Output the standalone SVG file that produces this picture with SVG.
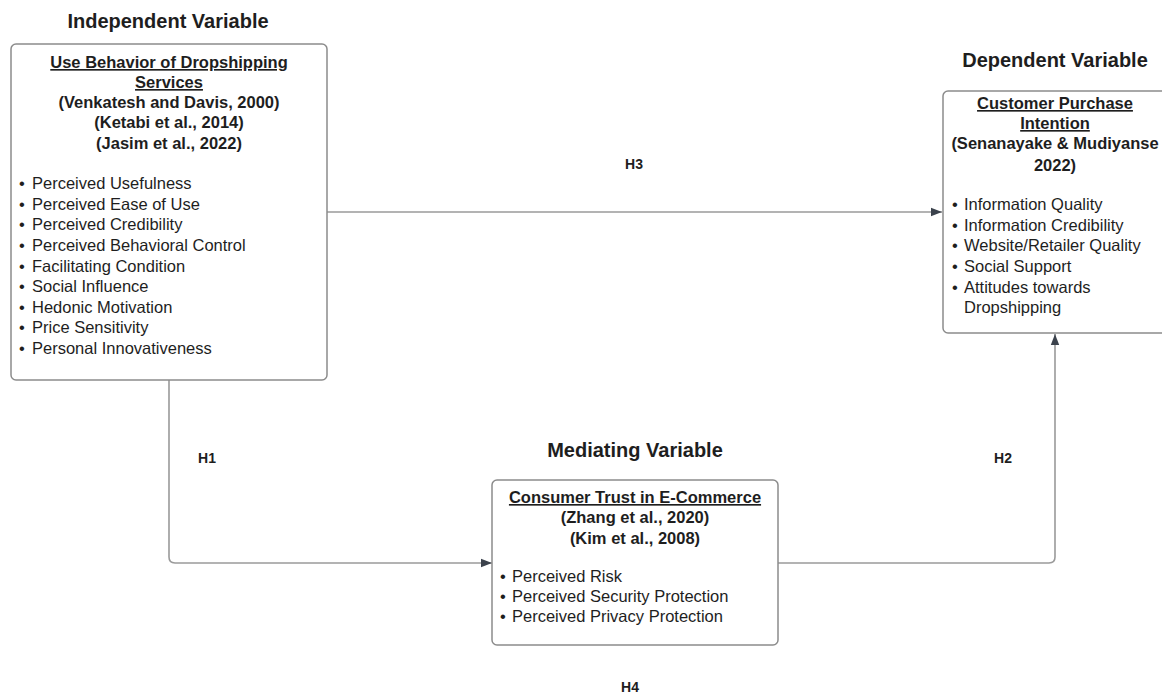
<svg xmlns="http://www.w3.org/2000/svg" width="1162" height="695" viewBox="0 0 1162 695">
<style>
text{font-family:"Liberation Sans",Arial,sans-serif;fill:#1e1e1e}
.hdr{font-size:20px;font-weight:bold;text-anchor:middle}
.hl{font-size:14px;font-weight:bold;text-anchor:middle}
.ttl{font-size:16.5px;font-weight:bold;text-anchor:middle}
.ul{text-decoration:underline}
.it{font-size:16.5px}
.box{fill:#fff;stroke:#8c8c8c;stroke-width:1.5}
.con{fill:none;stroke:#9a9a9a;stroke-width:1.6}
</style>
<defs>
<marker id="ah" markerWidth="12" markerHeight="10" refX="11" refY="5" orient="auto" markerUnits="userSpaceOnUse">
<path d="M0,0.8 L11,5 L0,9.2 Z" fill="#3b424c"/>
</marker>
</defs>
<rect width="1162" height="695" fill="#fff"/>
<g id="connectors">
<path class="con" d="M327 212 H942" marker-end="url(#ah)"/>
<path class="con" d="M169 380 V557 Q169 563 175 563 H492" marker-end="url(#ah)"/>
<path class="con" d="M778 563 H1049 Q1055 563 1055 557 V334" marker-end="url(#ah)"/>
</g>
<g id="labels">
<text class="hdr" x="168" y="28">Independent Variable</text>
<text class="hdr" x="1055" y="67">Dependent Variable</text>
<text class="hdr" x="635" y="457">Mediating Variable</text>
<text class="hl" x="634" y="169">H3</text>
<text class="hl" x="207" y="463">H1</text>
<text class="hl" x="1003" y="463">H2</text>
<text class="hl" x="630" y="692">H4</text>
</g>
<g id="node-independent">
<rect class="box" x="11" y="44" width="316" height="336" rx="5"/>
<text class="ttl ul" x="169" y="68">Use Behavior of Dropshipping</text>
<text class="ttl ul" x="169" y="88">Services</text>
<text class="ttl" x="169" y="108">(Venkatesh and Davis, 2000)</text>
<text class="ttl" x="169" y="128">(Ketabi et al., 2014)</text>
<text class="ttl" x="169" y="149">(Jasim et al., 2022)</text>
<g class="it">
<text x="19" y="189">•</text><text x="32" y="189">Perceived Usefulness</text>
<text x="19" y="210">•</text><text x="32" y="210">Perceived Ease of Use</text>
<text x="19" y="230">•</text><text x="32" y="230">Perceived Credibility</text>
<text x="19" y="251">•</text><text x="32" y="251">Perceived Behavioral Control</text>
<text x="19" y="272">•</text><text x="32" y="272">Facilitating Condition</text>
<text x="19" y="292">•</text><text x="32" y="292">Social Influence</text>
<text x="19" y="313">•</text><text x="32" y="313">Hedonic Motivation</text>
<text x="19" y="333">•</text><text x="32" y="333">Price Sensitivity</text>
<text x="19" y="354">•</text><text x="32" y="354">Personal Innovativeness</text>
</g>
</g>
<g id="node-dependent">
<rect class="box" x="943" y="91" width="224" height="242" rx="5"/>
<text class="ttl ul" x="1055" y="109">Customer Purchase</text>
<text class="ttl ul" x="1055" y="129">Intention</text>
<text class="ttl" x="1055" y="149">(Senanayake &amp; Mudiyanse</text>
<text class="ttl" x="1055" y="171">2022)</text>
<g class="it">
<text x="952" y="210">•</text><text x="964" y="210">Information Quality</text>
<text x="952" y="231">•</text><text x="964" y="231">Information Credibility</text>
<text x="952" y="251">•</text><text x="964" y="251">Website/Retailer Quality</text>
<text x="952" y="272">•</text><text x="964" y="272">Social Support</text>
<text x="952" y="293">•</text><text x="964" y="293">Attitudes towards</text>
<text x="964" y="313">Dropshipping</text>
</g>
</g>
<g id="node-mediating">
<rect class="box" x="492" y="480" width="286" height="165" rx="5"/>
<text class="ttl ul" x="635" y="503">Consumer Trust in E-Commerce</text>
<text class="ttl" x="635" y="523">(Zhang et al., 2020)</text>
<text class="ttl" x="635" y="544">(Kim et al., 2008)</text>
<g class="it">
<text x="500" y="582">•</text><text x="512" y="582">Perceived Risk</text>
<text x="500" y="602">•</text><text x="512" y="602">Perceived Security Protection</text>
<text x="500" y="622">•</text><text x="512" y="622">Perceived Privacy Protection</text>
</g>
</g>
</svg>
